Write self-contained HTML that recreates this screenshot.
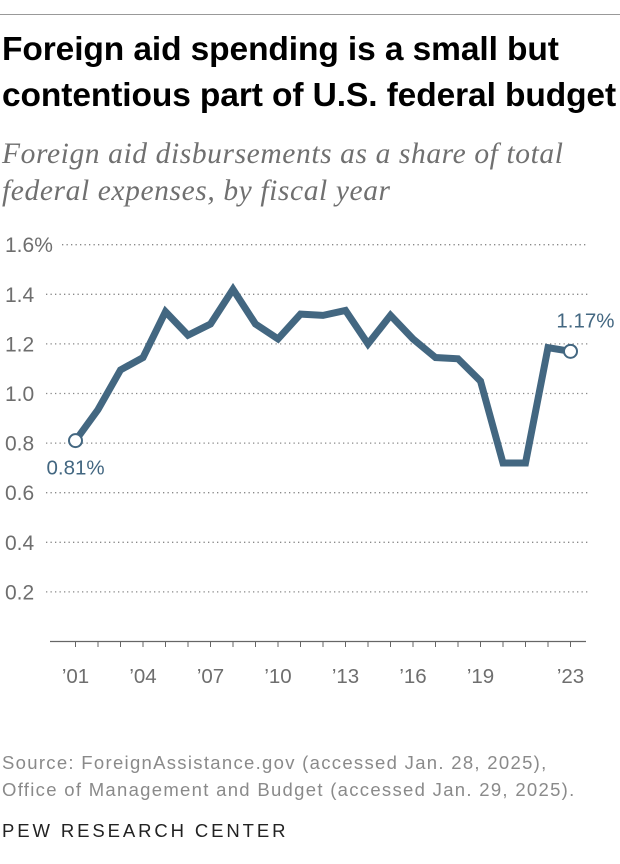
<!DOCTYPE html>
<html><head><meta charset="utf-8"><style>
body{margin:0;width:620px;height:864px;background:#fff;font-family:"Liberation Sans",sans-serif;overflow:hidden;position:relative}
.t{position:absolute;left:2px;top:27px;font-size:33.5px;font-weight:bold;line-height:46px;color:#000;letter-spacing:-0.1px;white-space:nowrap}
.s{position:absolute;left:2px;top:136px;font-family:"Liberation Serif",serif;font-style:italic;font-size:29.5px;line-height:37px;color:#707070;letter-spacing:0.6px;white-space:nowrap}
.src{position:absolute;left:2px;top:749px;font-size:18.5px;line-height:27px;color:#8a8a8a;letter-spacing:1.3px;white-space:nowrap}
.pew{position:absolute;left:2px;top:820px;font-size:18.5px;color:#222;letter-spacing:2.9px}
</style></head><body>
<div style="position:absolute;left:0;top:14px;width:620px;height:1px;background:#999"></div>
<div class="t">Foreign aid spending is a small but<br>contentious part of U.S. federal budget</div>
<div class="s">Foreign aid disbursements as a share of total<br>federal expenses, by fiscal year</div>
<svg id="c" width="620" height="864" style="position:absolute;left:0;top:0"></svg>
<div class="src">Source: ForeignAssistance.gov (accessed Jan. 28, 2025),<br>Office of Management and Budget (accessed Jan. 29, 2025).</div>
<div class="pew">PEW RESEARCH CENTER</div>
<script>
const years=[2001,2002,2003,2004,2005,2006,2007,2008,2009,2010,2011,2012,2013,2014,2015,2016,2017,2018,2019,2020,2021,2022,2023];
const values=[0.81,0.935,1.095,1.145,1.33,1.235,1.28,1.42,1.28,1.22,1.32,1.315,1.335,1.20,1.315,1.22,1.145,1.14,1.05,0.72,0.72,1.185,1.17];
const yTicks=[0.2,0.4,0.6,0.8,1.0,1.2,1.4,1.6];
const yTickLabels=["0.2","0.4","0.6","0.8","1.0","1.2","1.4","1.6%"];
const xTicks=[2001,2004,2007,2010,2013,2016,2019,2023];
const xTickLabels=["’01","’04","’07","’10","’13","’16","’19","’23"];
const NS="http://www.w3.org/2000/svg",svg=document.getElementById('c');
const x=v=>75.5+(v-2001)*22.5, y=v=>641.5-v*248;
function mk(t,a){const e=document.createElementNS(NS,t);for(const k in a)e.setAttribute(k,a[k]);svg.appendChild(e);return e;}
yTicks.forEach((t,i)=>{
 const lw=i==7?62:46;
 const g=mk('line',{x1:lw,x2:588,y1:y(t),y2:y(t),stroke:'#888','stroke-width':1.3,'stroke-dasharray':'1.3 3.2'});
 
 
 const l=mk('text',{x:5,y:y(t)+7.5,'font-size':21,fill:'#6e6e6e','font-family':'Liberation Sans'});
 l.textContent=yTickLabels[i];
 
 
});
const ax=mk('line',{x1:50,x2:586,y1:641.5,y2:641.5,stroke:'#666','stroke-width':1.3});


years.forEach(yr=>{
 const tk=mk('line',{x1:x(yr),x2:x(yr),y1:641.5,y2:647,stroke:'#666','stroke-width':1});
 
 
});
xTicks.forEach((t,i)=>{
 const l=mk('text',{x:x(t),y:683,'font-size':20.5,fill:'#6e6e6e','text-anchor':'middle','font-family':'Liberation Sans'});
 l.textContent=xTickLabels[i];
 
 
});
const p=mk('polyline',{points:years.map((yr,i)=>x(yr)+','+y(values[i])).join(' '),fill:'none',stroke:'#436781','stroke-width':7,'stroke-linejoin':'miter'});


[0,years.length-1].forEach(i=>{
 const c=mk('circle',{cx:x(years[i]),cy:y(values[i]),r:6.5,fill:'#fff',stroke:'#436781','stroke-width':2});
 
 
});
const a1=mk('text',{x:x(years[0])-29,y:y(values[0])+34,'font-size':20.5,fill:'#436781','font-family':'Liberation Sans'});
a1.textContent=values[0].toFixed(2)+'%';


const n=years.length-1;
const a2=mk('text',{x:x(years[n])+44,y:y(values[n])-24,'font-size':20.5,fill:'#436781','text-anchor':'end','font-family':'Liberation Sans'});
a2.textContent=values[n].toFixed(2)+'%';


</script>
</body></html>
